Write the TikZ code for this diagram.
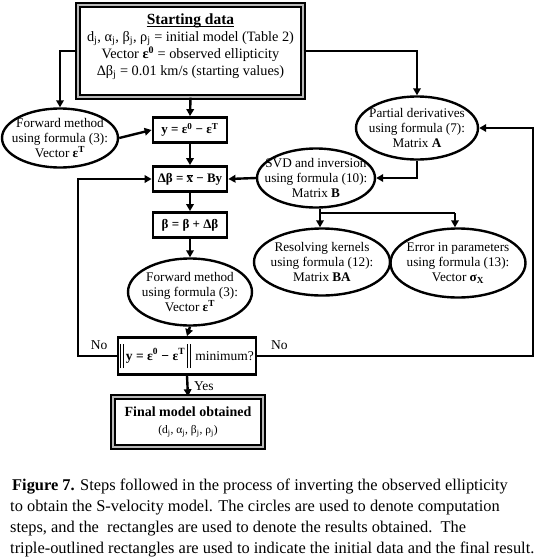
\documentclass[tikz,border=0pt]{standalone}
\usepackage{fontspec}
\setmainfont{Liberation Serif}
\usetikzlibrary{shapes.geometric,arrows.meta}
\newcommand\normbar{\rule[-8pt]{0.8pt}{24pt}\hspace{1.8pt}\rule[-8pt]{0.8pt}{24pt}}
\tikzset{
  arr/.style={line width=2.4pt,-{Triangle[length=7pt,width=7.5pt]}},
  ln/.style={line width=2.4pt},
  ell/.style={ellipse,draw,line width=2.4pt,inner xsep=-25pt,inner ysep=-14pt,align=center,font=\fontsize{13.2}{14.8}\selectfont},
  res/.style={rectangle,draw,line width=2.8pt,inner sep=0pt,align=center,font=\fontsize{13}{15}\selectfont\bfseries},
  triple/.style={rectangle,draw=black,line width=1.4pt,double=gray!55,double distance=2.4pt,inner sep=0pt,align=center,font=\fontsize{14.3}{16.5}\selectfont},
  plain/.style={inner sep=0pt,align=center,font=\fontsize{14.3}{17}\selectfont},
  lab/.style={font=\fontsize{13.5}{15}\selectfont},
  captxt/.style={anchor=west,inner sep=0pt,font=\fontsize{16.4}{19}\selectfont}
}
\begin{document}
\begin{tikzpicture}[x=1pt,y=-1pt]
\useasboundingbox (0,0) rectangle (540,558);
% nodes
\node[triple,minimum width=225,minimum height=92] (start) at (190.5,51) {};
\node[plain,font=\fontsize{15.5}{17}\selectfont\bfseries,anchor=base] (stitle) at (190.5,24) {Starting data};
\draw[line width=0.9pt] ([yshift=-2.2pt]stitle.base west) -- ([yshift=-2.2pt]stitle.base east);
\node[plain,anchor=north] (sbody) at (190.5,31)
  {d\textsubscript{j}, α\textsubscript{j}, β\textsubscript{j}, ρ\textsubscript{j} = initial model (Table 2)\\
   Vector \textbf{ε\textsuperscript{0}} = observed ellipticity\\
   Δβ\textsubscript{j} = 0.01 km/s (starting values)};
\node[ell,minimum width=116,minimum height=59] (fwd1) at (60,138)
  {Forward method\\ using formula (3):\\ Vector \textbf{ε\textsuperscript{T}}};
\node[res,minimum width=74,minimum height=25] (ybox) at (190,130)
  {y = ε\textsuperscript{0} − ε\textsuperscript{T}};
\node[res,minimum width=74,minimum height=25] (dbeta) at (190,179)
  {Δβ = $\overline{\hbox{x}}$ − By};
\node[res,minimum width=74,minimum height=25] (beta) at (190,225)
  {β = β + Δβ};
\node[ell,minimum width=122,minimum height=63] (pd) at (417,128)
  {Partial derivatives\\ using formula (7):\\ Matrix \textbf{A}};
\node[ell,minimum width=118,minimum height=59] (svd) at (316,178)
  {SVD and inversion\\ using formula (10):\\ Matrix \textbf{B}};
\node[ell,minimum width=136,minimum height=67] (rk) at (322,262)
  {Resolving kernels\\ using formula (12):\\ Matrix \textbf{BA}};
\node[ell,minimum width=135,minimum height=69] (err) at (458,263)
  {Error in parameters\\ using formula (13):\\ Vector \textbf{σ\textsubscript{X}}};
\node[ell,minimum width=124,minimum height=67] (fwd2) at (190,292)
  {Forward method\\ using formula (3):\\ Vector \textbf{ε\textsuperscript{T}}};
\node[rectangle,draw,line width=2.8pt,inner sep=0pt,minimum width=138,minimum height=37,font=\fontsize{13.5}{15}\selectfont] (minb) at (187,356)
  {\normbar\,\textbf{y = ε\textsuperscript{0} − ε\textsuperscript{T}}\,\normbar\,\,minimum?};
\node[triple,minimum width=150,minimum height=50] (final) at (188,422)
  {\textbf{\fontsize{14}{15.5}\selectfont Final model obtained}\\[1pt]
   {\fontsize{11.5}{13}\selectfont (d\textsubscript{j}, α\textsubscript{j}, β\textsubscript{j}, ρ\textsubscript{j})}};
% connectors
\draw[arr] (start.west) -| (fwd1.north);
\draw[arr] (start.east) -| (pd.north);
\draw[arr] (start.south) -- (ybox.north);
\draw[arr] (fwd1.east) -- (ybox.west);
\draw[arr] (ybox.south) -- (dbeta.north);
\draw[arr] (dbeta.south) -- (beta.north);
\draw[arr] (beta.south) -- (fwd2.north);
\draw[arr] (fwd2.south) -- (minb.north);
\draw[arr] (minb.south) -- node[lab,right,xshift=2pt] {Yes} (final.north);
\draw[arr] (svd.west) -- (dbeta.east);
\draw[arr] (pd.south) |- (svd.east);
\coordinate (b1) at (320,213);
\coordinate (b2) at (455,213);
\draw[ln] (svd.south -| b1) -- (b1) -- (b2);
\draw[arr] (b1) -- (b1 |- rk.north);
\draw[arr] (b2) -- (b2 |- err.north);
\coordinate (lft) at (78,356);
\coordinate (rgt) at (533,356);
\draw[arr] (minb.west) -- node[lab,above,pos=0.45,yshift=2pt] {No} (lft) |- (dbeta.west);
\draw[arr] (minb.east) -- node[lab,above,pos=0.08,yshift=2pt] {No} (rgt) |- (pd.east);
% caption
\node[captxt] (c1) at (12,487) {\textbf{Figure 7.} Steps followed in the process of inverting the observed ellipticity};
\node[captxt] (c2) at (10,508) {to obtain the S-velocity model. The circles are used to denote computation};
\node[captxt] (c3) at (10,529) {steps, and the\ \ rectangles are used to denote the results obtained.\ \ The};
\node[captxt] (c4) at (10,549) {triple-outlined rectangles are used to indicate the initial data and the final result.};
\end{tikzpicture}
\end{document}
